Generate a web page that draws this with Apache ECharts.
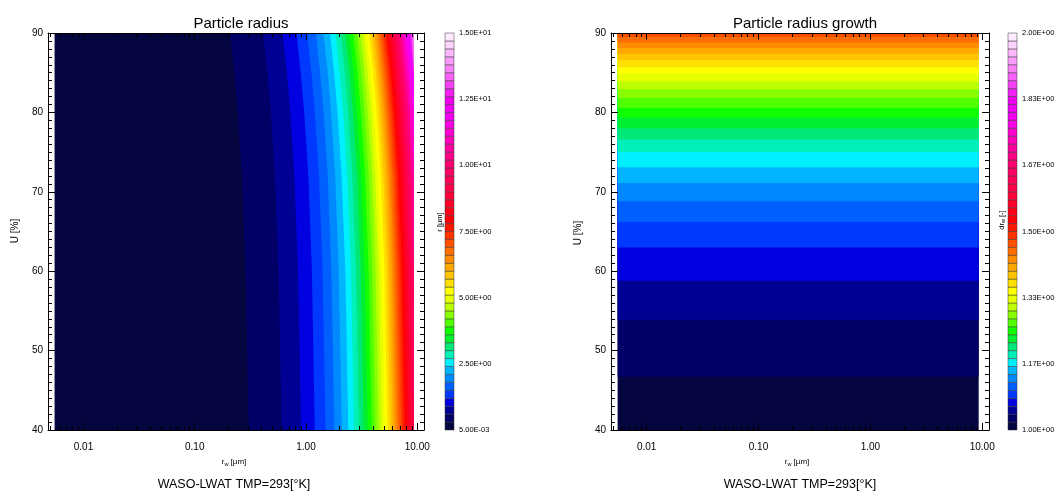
<!DOCTYPE html>
<html>
<head>
<meta charset="utf-8">
<script src="https://cdn.jsdelivr.net/npm/echarts@6/dist/echarts.min.js"></script>
<style>
  html, body { margin: 0; padding: 0; background: #ffffff; }
  #chart { width: 1063px; height: 494px; }
</style>
</head>
<body>
<div id="chart"></div>
<script>
// ---- data -------------------------------------------------------------
// Relative humidity U [%] covered by both panels
const humidityRange = [40, 90];
// Dry radius r_w [µm]: extent of the computed field and of the drawn axis
const dryRadiusRange = [0.0055, 9.3];
const dryRadiusAxis = [0.0048, 11.5];

// Left panel (r): humidity rows at which the contour edges are listed
const radiusRowsU = [40, 60, 72, 80, 85, 90];
// r_w [µm] at which r crosses each successive contour level, per row
const radiusEdgesU40 = [0.305, 0.605, 0.905, 1.20, 1.50, 1.80, 2.10, 2.40, 2.70, 3.00,
  3.30, 3.60, 3.90, 4.20, 4.50, 4.80, 5.10, 5.40, 5.70, 6.00, 6.30, 6.60, 6.90, 7.20,
  7.50, 7.80, 8.10, 8.40, 8.70, 9.00];
const radiusEdgesU60 = [0.286, 0.567, 0.849, 1.13, 1.41, 1.69, 1.97, 2.26, 2.54, 2.82,
  3.10, 3.38, 3.66, 3.94, 4.23, 4.51, 4.79, 5.07, 5.35, 5.63, 5.91, 6.19, 6.48, 6.76,
  7.04, 7.32, 7.60, 7.88, 8.16, 8.45, 8.73, 9.01, 9.29];
const radiusEdgesU72 = [0.265, 0.526, 0.787, 1.05, 1.31, 1.57, 1.83, 2.09, 2.35, 2.61,
  2.88, 3.14, 3.40, 3.66, 3.92, 4.18, 4.44, 4.70, 4.96, 5.23, 5.49, 5.75, 6.01, 6.27,
  6.53, 6.79, 7.05, 7.31, 7.57, 7.84, 8.10, 8.36, 8.62, 8.88, 9.14];
const radiusEdgesU80 = [0.244, 0.484, 0.724, 0.964, 1.20, 1.44, 1.68, 1.92, 2.16, 2.40,
  2.64, 2.88, 3.12, 3.36, 3.60, 3.84, 4.08, 4.32, 4.56, 4.80, 5.04, 5.28, 5.52, 5.76,
  6.00, 6.24, 6.48, 6.72, 6.96, 7.20, 7.44, 7.68, 7.92, 8.16, 8.40, 8.64, 8.88, 9.12];
const radiusEdgesU85 = [0.227, 0.450, 0.674, 0.897, 1.12, 1.34, 1.57, 1.79, 2.01, 2.24,
  2.46, 2.68, 2.91, 3.13, 3.35, 3.58, 3.80, 4.02, 4.25, 4.47, 4.69, 4.92, 5.14, 5.36,
  5.59, 5.81, 6.03, 6.26, 6.48, 6.70, 6.93, 7.15, 7.37, 7.60, 7.82, 8.04, 8.27, 8.49,
  8.71, 8.94, 9.16];
const radiusEdgesU90 = [0.207, 0.411, 0.615, 0.820, 1.02, 1.23, 1.43, 1.64, 1.84, 2.04,
  2.25, 2.45, 2.66, 2.86, 3.06, 3.27, 3.47, 3.68, 3.88, 4.08, 4.29, 4.49, 4.70, 4.90,
  5.10, 5.31, 5.51, 5.72, 5.92, 6.12, 6.33, 6.53, 6.74, 6.94, 7.14, 7.35, 7.55, 7.76,
  7.96, 8.16, 8.37, 8.57, 8.78, 8.98, 9.18];

// Right panel (growth r/r_w): humidity [%] where each successive level is crossed
const growthEdgesU = [46.7, 53.9, 58.8, 63.0, 66.2, 68.8, 71.1, 73.1, 75.0, 76.6, 78.0,
  79.4, 80.6, 81.8, 82.9, 83.9, 84.9, 85.7, 86.6, 87.4, 88.1, 88.8, 89.5];

// Contour levels (colour-bar box edges)
const radiusLevels = [0.005, 0.305, 0.605, 0.905, 1.205, 1.505, 1.805, 2.105, 2.405, 2.705,
  3.004, 3.304, 3.604, 3.904, 4.204, 4.504, 4.804, 5.104, 5.404, 5.704, 6.003, 6.303,
  6.603, 6.903, 7.203, 7.503, 7.802, 8.102, 8.402, 8.702, 9.002, 9.302, 9.602, 9.902,
  10.20, 10.50, 10.80, 11.10, 11.40, 11.70, 12.00, 12.30, 12.60, 12.90, 13.20, 13.50,
  13.80, 14.10, 14.40, 14.70, 15.00];
const growthLevels = [1.00, 1.02, 1.04, 1.06, 1.08, 1.10, 1.12, 1.14, 1.16, 1.18, 1.20,
  1.22, 1.24, 1.26, 1.28, 1.30, 1.32, 1.34, 1.36, 1.38, 1.40, 1.42, 1.44, 1.46, 1.48,
  1.50, 1.52, 1.54, 1.56, 1.58, 1.60, 1.62, 1.64, 1.66, 1.68, 1.70, 1.72, 1.74, 1.76,
  1.78, 1.80, 1.82, 1.84, 1.86, 1.88, 1.90, 1.92, 1.94, 1.96, 1.98, 2.00];

// Rainbow + white colour table, one colour per level
const levelColors = [
  '#05053f', '#000066', '#000095', '#0000e0', '#0038ff', '#0060ff', '#0088ff', '#00b4ff', '#00f0ff', '#00f0b8',
  '#00e878', '#00f030', '#10ff00', '#50ff00', '#88ff00', '#bcff00', '#e8ff00', '#ffff00', '#ffe000', '#ffc400',
  '#ffa800', '#ff8c00', '#ff6c00', '#ff5000', '#ff3400', '#ff1800', '#ff0008', '#ff0018', '#ff0028', '#ff0038',
  '#ff0048', '#ff0058', '#ff0064', '#ff0070', '#ff0088', '#ff00a0', '#ff00b8', '#ff00d0', '#fa00e4', '#f400f0',
  '#ee00f4', '#ee00ee', '#f020f0', '#f440f4', '#f860f8', '#fa80fa', '#fc9cfc', '#fdb8fd', '#fed4fe', '#ffeaff'
];

// Tick labels
const radiusBarTicks = [0.005, 2.5, 5, 7.5, 10, 12.5, 15];
const growthBarTicks = [1.0, 1.1667, 1.3333, 1.5, 1.6667, 1.8333, 2.0];
const decadeTicks = [0.01, 0.1, 1, 10];
const minorRadiusTicks = [0.005, 0.006, 0.007, 0.008, 0.009, 0.02, 0.03, 0.04, 0.05, 0.06,
  0.07, 0.08, 0.09, 0.2, 0.3, 0.4, 0.5, 0.6, 0.7, 0.8, 0.9, 2, 3, 4, 5, 6, 7, 8, 9];

// ---- helpers ----------------------------------------------------------
const FONT = 'Liberation Sans';
const lg = Math.log10;

function sci(v) {
  let e = Math.floor(lg(v));
  let m = v / Math.pow(10, e);
  if (+m.toFixed(2) >= 10) { m /= 10; e += 1; }
  return m.toFixed(2) + 'E' + (e < 0 ? '-' : '+') + String(Math.abs(e)).padStart(2, '0');
}

// Band items for the r field: [edge at each row..., level]
const radiusRowEdges = [radiusEdgesU40, radiusEdgesU60, radiusEdgesU72,
                        radiusEdgesU80, radiusEdgesU85, radiusEdgesU90];
const radiusBandCount = Math.max(...radiusRowEdges.map(a => a.length)) + 1;
const radiusBandData = [];
for (let k = 0; k < radiusBandCount; k++) {
  const item = radiusRowEdges.map(edges =>
    k === 0 ? dryRadiusRange[0] : (k - 1 < edges.length ? edges[k - 1] : dryRadiusRange[1]));
  item.push(k);
  radiusBandData.push(item);
}
// Band items for the growth field: [lower humidity edge, level]
const growthBandData = [];
for (let k = 0; k <= growthEdgesU.length; k++) {
  growthBandData.push([k === 0 ? humidityRange[0] : growthEdgesU[k - 1], k]);
}
// Colour-bar boxes: [level, low, high]
const barData = levels => levelColors.map((c, k) => [k, levels[k], levels[k + 1]]);

// Each band is painted from its left edge to the right end of the field,
// later (higher) levels on top, so neighbouring bands leave no seams.
function renderRadiusBand(params, api) {
  const k = api.value(radiusRowsU.length);
  const pts = radiusRowsU.map((u, r) => api.coord([api.value(r), u]));
  pts.push(api.coord([dryRadiusRange[1], humidityRange[1]]));
  pts.push(api.coord([dryRadiusRange[1], humidityRange[0]]));
  return { type: 'polygon', shape: { points: pts }, style: { fill: levelColors[k] } };
}
function renderGrowthBand(params, api) {
  const k = api.value(1);
  const a = api.coord([dryRadiusRange[0], humidityRange[1]]);
  const b = api.coord([dryRadiusRange[1], api.value(0)]);
  return { type: 'rect', shape: { x: a[0], y: a[1], width: b[0] - a[0], height: b[1] - a[1] },
           style: { fill: levelColors[k] } };
}
function renderBarBox(params, api) {
  const k = api.value(0);
  const a = api.coord([0, api.value(2)]);
  const b = api.coord([1, api.value(1)]);
  return { type: 'rect', shape: { x: a[0], y: a[1], width: b[0] - a[0], height: b[1] - a[1] },
           style: { fill: levelColors[k], stroke: '#3a3a3a', lineWidth: 0.5 } };
}

// ---- axes -------------------------------------------------------------
const black = { color: '#000', width: 1 };
const lmin = lg(dryRadiusAxis[0]), lmax = lg(dryRadiusAxis[1]);
const majorLog = decadeTicks.map(lg);
const minorLog = minorRadiusTicks.map(lg);

function plotXAxes(g) {
  const base = { gridIndex: g, type: 'value', min: lmin, max: lmax, z: 5, splitLine: { show: false } };
  return [
    { gridIndex: g, type: 'log', logBase: 10, min: dryRadiusAxis[0], max: dryRadiusAxis[1], show: false },
    Object.assign({}, base, {
      position: 'bottom',
      axisLine: { show: true, onZero: false, lineStyle: black },
      axisTick: { show: true, inside: true, length: 7, customValues: majorLog, lineStyle: black },
      axisLabel: { show: true, customValues: majorLog, margin: 12, fontSize: 10, color: '#000', fontFamily: FONT,
                   formatter: v => Math.pow(10, v).toFixed(2) }
    }),
    Object.assign({}, base, {
      position: 'bottom',
      axisLine: { show: false, onZero: false },
      axisTick: { show: true, inside: true, length: 4, customValues: minorLog, lineStyle: black },
      axisLabel: { show: false }
    }),
    Object.assign({}, base, {
      position: 'top',
      axisLine: { show: true, onZero: false, lineStyle: black },
      axisTick: { show: true, inside: true, length: 7, customValues: majorLog, lineStyle: black },
      axisLabel: { show: false }
    }),
    Object.assign({}, base, {
      position: 'top',
      axisLine: { show: false, onZero: false },
      axisTick: { show: true, inside: true, length: 4, customValues: minorLog, lineStyle: black },
      axisLabel: { show: false }
    })
  ];
}
function plotYAxes(g) {
  const base = {
    gridIndex: g, type: 'value', min: humidityRange[0], max: humidityRange[1], interval: 10, z: 5,
    axisLine: { show: true, onZero: false, lineStyle: black },
    axisTick: { show: true, inside: true, length: 7, lineStyle: black },
    minorTick: { show: true, splitNumber: 10, length: 4, lineStyle: black },
    splitLine: { show: false }, minorSplitLine: { show: false }
  };
  return [
    Object.assign({}, base, { position: 'left',
      axisLabel: { show: true, margin: 5, fontSize: 10, color: '#000', fontFamily: FONT } }),
    Object.assign({}, base, { position: 'right', axisLabel: { show: false } })
  ];
}
function barXAxis(g) {
  return { gridIndex: g, type: 'value', min: 0, max: 1, show: false };
}
function barYAxis(g, levels, ticks) {
  return {
    gridIndex: g, type: 'value', position: 'right', min: levels[0], max: levels[levels.length - 1],
    axisLine: { show: false, onZero: false }, axisTick: { show: false }, splitLine: { show: false },
    axisLabel: { show: true, customValues: ticks, formatter: sci, margin: 5, fontSize: 7.5,
                 color: '#000', fontFamily: FONT }
  };
}

// ---- texts ------------------------------------------------------------
const subRich = {
  a: { fontSize: 8, fontFamily: FONT, color: '#000' },
  s: { fontSize: 5.5, fontFamily: FONT, color: '#000', padding: [4, 0, 0, 0] }
};
function text(x, y, str, size, rot, rich) {
  return {
    type: 'text', x: x, y: y, rotation: rot || 0, silent: true,
    style: { text: str, fontSize: size, fontFamily: FONT, fill: '#000', align: 'center', verticalAlign: 'middle',
             rich: rich }
  };
}

const chart = echarts.init(document.getElementById('chart'), null, { renderer: 'canvas' });
chart.setOption({
  animation: false,
  backgroundColor: '#ffffff',
  title: [
    { text: 'Particle radius', left: 236, top: 11, textAlign: 'center',
      textStyle: { fontSize: 15, fontWeight: 'normal', fontFamily: FONT, color: '#000' } },
    { text: 'Particle radius growth', left: 800, top: 11, textAlign: 'center',
      textStyle: { fontSize: 15, fontWeight: 'normal', fontFamily: FONT, color: '#000' } }
  ],
  grid: [
    { left: 48, top: 33, width: 376, height: 397 },
    { left: 445, top: 33, width: 9, height: 397 },
    { left: 611, top: 33, width: 378, height: 397 },
    { left: 1008, top: 33, width: 9, height: 397 }
  ],
  xAxis: [].concat(plotXAxes(0), [barXAxis(1)], plotXAxes(2), [barXAxis(3)]),
  yAxis: [].concat(plotYAxes(0), [barYAxis(1, radiusLevels, radiusBarTicks)],
                   plotYAxes(2), [barYAxis(3, growthLevels, growthBarTicks)]),
  series: [
    { type: 'custom', name: 'r', xAxisIndex: 0, yAxisIndex: 0, z: 1, silent: true,
      renderItem: renderRadiusBand, data: radiusBandData },
    { type: 'custom', name: 'r scale', xAxisIndex: 5, yAxisIndex: 2, z: 1, silent: true,
      renderItem: renderBarBox, data: barData(radiusLevels) },
    { type: 'custom', name: 'growth', xAxisIndex: 6, yAxisIndex: 3, z: 1, silent: true,
      renderItem: renderGrowthBand, data: growthBandData },
    { type: 'custom', name: 'growth scale', xAxisIndex: 11, yAxisIndex: 5, z: 1, silent: true,
      renderItem: renderBarBox, data: barData(growthLevels) }
  ],
  graphic: [
    text(15, 231, 'U [%]', 10, Math.PI / 2),
    text(578, 233, 'U [%]', 10, Math.PI / 2),
    text(234, 462, '{a|r}{s|w}{a| [µm]}', 8, 0, subRich),
    text(797, 462, '{a|r}{s|w}{a| [µm]}', 8, 0, subRich),
    text(234, 485, 'WASO-LWAT TMP=293[°K]', 12.5),
    text(800, 485, 'WASO-LWAT TMP=293[°K]', 12.5),
    text(440, 222, 'r [µm]', 7.5, Math.PI / 2),
    text(1002, 220, '{a|dr}{s|w}{a| [-]}', 7.5, Math.PI / 2,
         { a: { fontSize: 7.5, fontFamily: FONT, color: '#000' },
           s: { fontSize: 5.5, fontFamily: FONT, color: '#000', padding: [3, 0, 0, 0] } })
  ]
});
</script>
</body>
</html>
